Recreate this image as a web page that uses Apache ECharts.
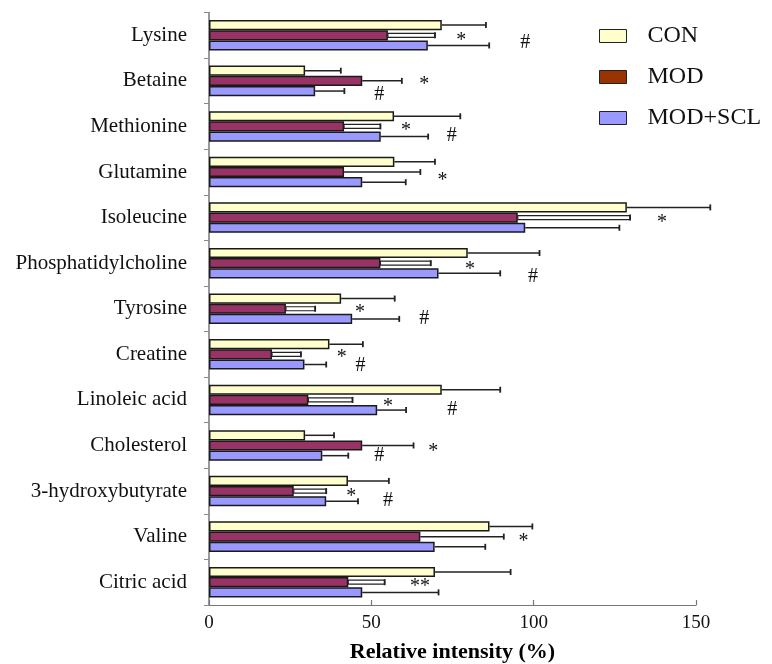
<!DOCTYPE html>
<html>
<head>
<meta charset="utf-8">
<script src="https://cdn.jsdelivr.net/npm/echarts@6/dist/echarts.min.js"></script>
<style>html,body{margin:0;padding:0;background:#fff;}#c{width:772px;height:664px;}</style>
</head>
<body>
<div id="c"></div>
<script>
const categories = ['Lysine','Betaine','Methionine','Glutamine','Isoleucine','Phosphatidylcholine','Tyrosine','Creatine','Linoleic acid','Cholesterol','3-hydroxybutyrate','Valine','Citric acid'];
const seriesNames = ['CON','MOD','MOD+SCL'];
const conVal = [71.7,29.6,57.0,57.1,128.7,79.7,40.7,37.1,71.7,29.6,42.8,86.4,69.6];
const conSD  = [13.6,11.0,20.4,12.5,25.7,22.1,16.5,10.3,18.0,8.9,12.6,13.2,23.3];
const modVal = [55.1,47.2,41.6,41.6,95.1,52.8,23.7,19.4,30.6,47.2,26.1,65.1,42.9];
const modSD  = [14.5,12.2,11.2,23.5,34.6,15.5,9.0,8.9,13.6,15.8,10.0,25.7,11.2];
const sclVal = [67.4,32.7,52.9,47.2,97.4,70.7,44.1,29.4,51.8,34.9,36.1,69.5,47.2];
const sclSD  = [18.9,9.0,14.6,13.4,29.0,19.0,14.5,6.7,8.9,8.0,9.8,15.6,23.5];
const xTicks = [0,50,100,150];
// significance marks: category index, x value, row (in bar slots from category centre), text
const markCat  = [0,0,1,1,2,2,3,4,5,5,6,6,7,7,8,8,9,9,10,10,11,12];
const markX    = [77.7,97.4,66.3,52.4,60.7,74.8,71.9,139.5,80.4,99.8,46.5,66.3,40.9,46.7,55.1,74.9,69.1,52.4,43.8,55.1,96.9,65.0];
const markRow  = [0.27,0.76,0.08,1.39,0.15,0.93,0.56,0.17,0.34,1.33,0.12,1.0,0.06,1.11,0.33,0.99,0.34,1.0,0.31,0.97,0.23,0.11];
const markText = ['*','#','*','#','*','#','*','*','*','#','*','#','*','#','*','#','*','#','*','#','*','**'];

const FONT = "'Liberation Serif','Times New Roman',serif";
const CAT_GAP = 0.33;
const barColors = ['#FFFFCC','#993366','#9999FF'];
const legendColors = ['#FFFFCC','#993300','#9999FF'];
const vals = [conVal, modVal, sclVal];
const sds = [conSD, modSD, sclSD];

function errSeries(pos) {
  const v = vals[pos], sd = sds[pos];
  return {
    type: 'custom',
    name: 'err' + pos,
    clip: false,
    z: 4,
    encode: {x: [1, 2], y: 0},
    data: categories.map((c, i) => [i, v[i], v[i] + sd[i]]),
    renderItem: function (params, api) {
      const i = api.value(0);
      const p0 = api.coord([api.value(1), i]);
      const p1 = api.coord([api.value(2), i]);
      const band = api.size([0, 1])[1];
      const bw = band * (1 - CAT_GAP) / 3;
      const y = p0[1] + (pos - 1) * bw;
      const children = [];
      const hollow = pos === 1 && (api.value(2) <= conVal[i] + 2);
      if (hollow) {
        children.push({type: 'rect', shape: {x: p0[0], y: y - 2, width: p1[0] - p0[0], height: 4},
          style: {fill: '#fff', stroke: '#222', lineWidth: 1.2}});
      } else {
        children.push({type: 'line', shape: {x1: p0[0], y1: y, x2: p1[0], y2: y},
          style: {stroke: '#222', lineWidth: 1.5}});
      }
      children.push({type: 'line', shape: {x1: p1[0], y1: y - 3, x2: p1[0], y2: y + 3},
        style: {stroke: '#222', lineWidth: 1.8}});
      return {type: 'group', children: children};
    }
  };
}

const chart = echarts.init(document.getElementById('c'), null, {renderer: 'canvas'});
const option = {
  animation: false,
  backgroundColor: '#fff',
  grid: {left: 209, right: 76, top: 12.5, bottom: 59, containLabel: false, outerBoundsMode: 'none'},
  legend: {
    orient: 'vertical',
    left: 599, top: 24, padding: 0,
    itemWidth: 27, itemHeight: 13, itemGap: 17,
    icon: 'rect',
    textStyle: {fontFamily: FONT, fontSize: 24, color: '#111', padding: [0, 0, 0, 16]},
    data: seriesNames.map((n, k) => ({name: n, itemStyle: {color: legendColors[k], borderColor: '#222', borderWidth: 1}}))
  },
  xAxis: {
    type: 'value', min: xTicks[0], max: xTicks[xTicks.length - 1], interval: 50,
    name: 'Relative intensity (%)', nameLocation: 'middle', nameGap: 36,
    nameTextStyle: {fontFamily: FONT, fontSize: 22, fontWeight: 'bold', color: '#000'},
    axisLine: {show: true, lineStyle: {color: '#777', width: 1.2}},
    axisTick: {show: true, inside: true, length: 5, lineStyle: {color: '#777', width: 1.2}},
    axisLabel: {fontFamily: FONT, fontSize: 19, color: '#111', margin: 9},
    splitLine: {show: false}
  },
  yAxis: {
    type: 'category', data: categories, inverse: true,
    axisLine: {show: true, lineStyle: {color: '#777', width: 1.5}},
    axisTick: {show: true, inside: false, length: 5, lineStyle: {color: '#888', width: 1}},
    axisLabel: {fontFamily: FONT, fontSize: 21, color: '#111', margin: 22},
    splitLine: {show: false}
  },
  series: seriesNames.map((n, k) => ({
    type: 'bar', name: n, data: vals[k],
    barGap: '0%', barCategoryGap: (CAT_GAP * 100) + '%',
    itemStyle: {color: barColors[k], borderColor: '#1a1a1a', borderWidth: 1.5},
    z: 3
  })).concat([errSeries(0), errSeries(1), errSeries(2), {
    type: 'custom',
    name: 'marks',
    clip: false,
    z: 5,
    encode: {x: 1, y: 0},
    data: markCat.map((c, j) => [c, markX[j], markRow[j], markText[j]]),
    renderItem: function (params, api) {
      const i = api.value(0);
      const p = api.coord([api.value(1), i]);
      const band = api.size([0, 1])[1];
      const bw = band * (1 - CAT_GAP) / 3;
      const t = markText[params.dataIndex];
      const y = p[1] + api.value(2) * bw + (t.indexOf('*') >= 0 ? 3 : 0);
      return {type: 'text', x: p[0], y: y,
        style: {text: t, fontFamily: FONT, fontSize: 20, fill: '#111', align: 'center', verticalAlign: 'middle'}};
    }
  }])
};
chart.setOption(option);
</script>
</body>
</html>
